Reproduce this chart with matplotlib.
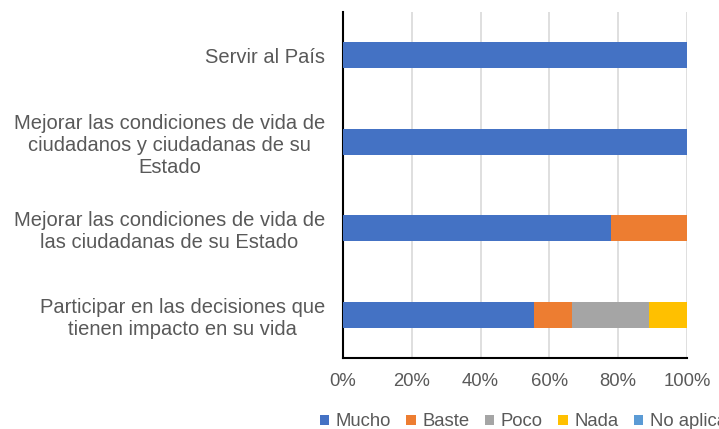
import matplotlib.pyplot as plt
import numpy as np

plt.rcParams['font.family'] = ['Liberation Sans', 'DejaVu Sans']

categorias = ['Servir al País',
              'Mejorar las condiciones de vida de\nciudadanos y ciudadanas de su\nEstado',
              'Mejorar las condiciones de vida de\nlas ciudadanas de su Estado',
              'Participar en las decisiones que\ntienen impacto en su vida']
series = ['Mucho', 'Baste', 'Poco', 'Nada', 'No aplica']
mucho = [100, 100, 77.8, 55.6]
baste = [0, 0, 22.2, 11.1]
poco = [0, 0, 0, 22.2]
nada = [0, 0, 0, 11.1]
no_aplica = [0, 0, 0, 0]
colores = ['#4472C4', '#ED7D31', '#A5A5A5', '#FFC000', '#5B9BD5']

valores = [mucho, baste, poco, nada, no_aplica]

fig = plt.figure(figsize=(7.19, 4.29), dpi=100)
ax = fig.add_axes([343/719, 1 - 358/429, 344/719, 346/429])

y = np.arange(len(categorias))
izq = np.zeros(len(categorias))
for nombre, vals, c in zip(series, valores, colores):
    vals = np.array(vals)
    ax.barh(y, vals, left=izq, height=0.3, color=c, label=nombre, zorder=3)
    izq += vals

ax.set_ylim(len(categorias) - 0.5, -0.5)
ax.set_xlim(0, 100)
ax.set_xticks(np.arange(0, 101, 20))
ax.set_xticklabels([f'{v}%' for v in range(0, 101, 20)], fontsize=13.3)
ax.set_yticks(y)
ax.set_yticklabels(categorias, multialignment='center', fontsize=14.5, linespacing=1.2)
ax.tick_params(axis='both', length=0, colors='#595959')
ax.tick_params(axis='y', pad=13)
ax.tick_params(axis='x', pad=11)
ax.grid(axis='x', color='#D9D9D9', linewidth=1.2, zorder=0)
for s in ['top', 'right']:
    ax.spines[s].set_visible(False)
ax.spines['left'].set_color('black')
ax.spines['bottom'].set_color('black')
ax.spines['left'].set_linewidth(1.5)
ax.spines['bottom'].set_linewidth(1.5)

ax.legend(loc='center left', bbox_to_anchor=(303/719, 1 - 422/429), bbox_transform=fig.transFigure,
          ncol=5, frameon=False, fontsize=13.3, labelcolor='#595959',
          handlelength=0.5, handleheight=0.5, handletextpad=0.35, columnspacing=0.85)

fig.savefig('out.png', dpi=100)
